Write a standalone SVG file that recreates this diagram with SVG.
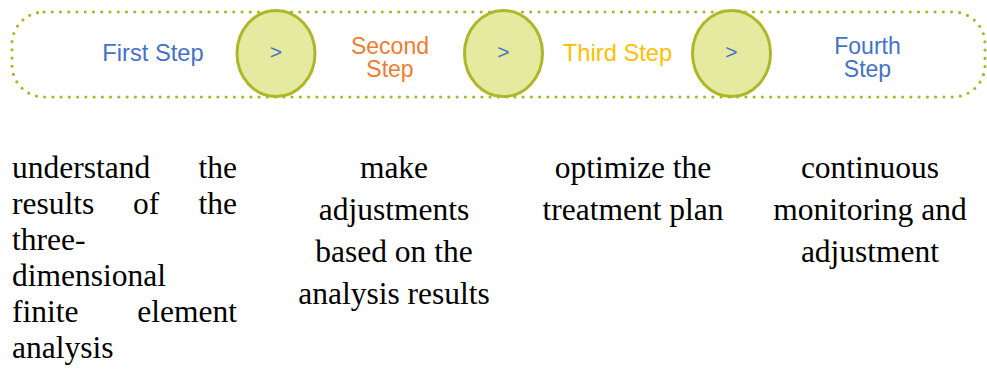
<svg xmlns="http://www.w3.org/2000/svg" width="987" height="372" viewBox="0 0 987 372">
<style>
.step{font-family:"Liberation Sans",Arial,sans-serif;font-size:23.7px;text-anchor:middle}
.two{font-size:23px}
.arrow{font-family:"Liberation Sans",Arial,sans-serif;font-size:21px;fill:#4472C4;text-anchor:middle}
.circ{fill:#E4EA9F;stroke:#AEB72A;stroke-width:3}
.desc{font-family:"Liberation Serif","Times New Roman",serif;font-size:31.5px;fill:#000}
.mid{text-anchor:middle}
.end{text-anchor:end}
</style>
<rect x="12" y="12" width="973" height="85" rx="32" ry="32" fill="#fff" stroke="#A8B82B" stroke-width="3.2" stroke-dasharray="0 8.25" stroke-linecap="round"/>
<g id="step1"><text class="step" x="153" y="61" fill="#4472C4">First Step</text></g>
<g id="step2"><text class="step two" x="390" y="53.5" fill="#ED7D31">Second</text><text class="step two" x="390" y="76.5" fill="#ED7D31">Step</text></g>
<g id="step3"><text class="step" x="617.5" y="61" fill="#FFC000">Third Step</text></g>
<g id="step4"><text class="step two" x="867.5" y="53.5" fill="#4472C4">Fourth</text><text class="step two" x="867.5" y="76.5" fill="#4472C4">Step</text></g>
<g id="connectors">
<g id="arrow1"><ellipse class="circ" cx="276" cy="53.5" rx="39" ry="43"/><text class="arrow" x="276" y="59">&gt;</text></g>
<g id="arrow2"><ellipse class="circ" cx="503.5" cy="53.5" rx="39" ry="43"/><text class="arrow" x="503.5" y="59">&gt;</text></g>
<g id="arrow3"><ellipse class="circ" cx="731.5" cy="53.5" rx="39" ry="43"/><text class="arrow" x="731.5" y="59">&gt;</text></g>
</g>
<g id="desc1" class="desc">
<text x="12" y="178">understand</text><text class="end" x="237" y="178">the</text>
<text x="12" y="214">results</text><text x="133" y="214">of</text><text class="end" x="237" y="214">the</text>
<text x="12" y="250">three-</text>
<text x="12" y="286">dimensional</text>
<text x="12" y="322">finite</text><text class="end" x="237" y="322">element</text>
<text x="12" y="358">analysis</text>
</g>
<g id="desc2" class="desc">
<text class="mid" x="394" y="178">make</text>
<text class="mid" x="394" y="220">adjustments</text>
<text class="mid" x="394" y="262">based on the</text>
<text class="mid" x="394" y="304">analysis results</text>
</g>
<g id="desc3" class="desc">
<text class="mid" x="633" y="178">optimize the</text>
<text class="mid" x="633" y="220">treatment plan</text>
</g>
<g id="desc4" class="desc">
<text class="mid" x="870" y="178">continuous</text>
<text class="mid" x="870" y="220">monitoring and</text>
<text class="mid" x="870" y="262">adjustment</text>
</g>
</svg>
